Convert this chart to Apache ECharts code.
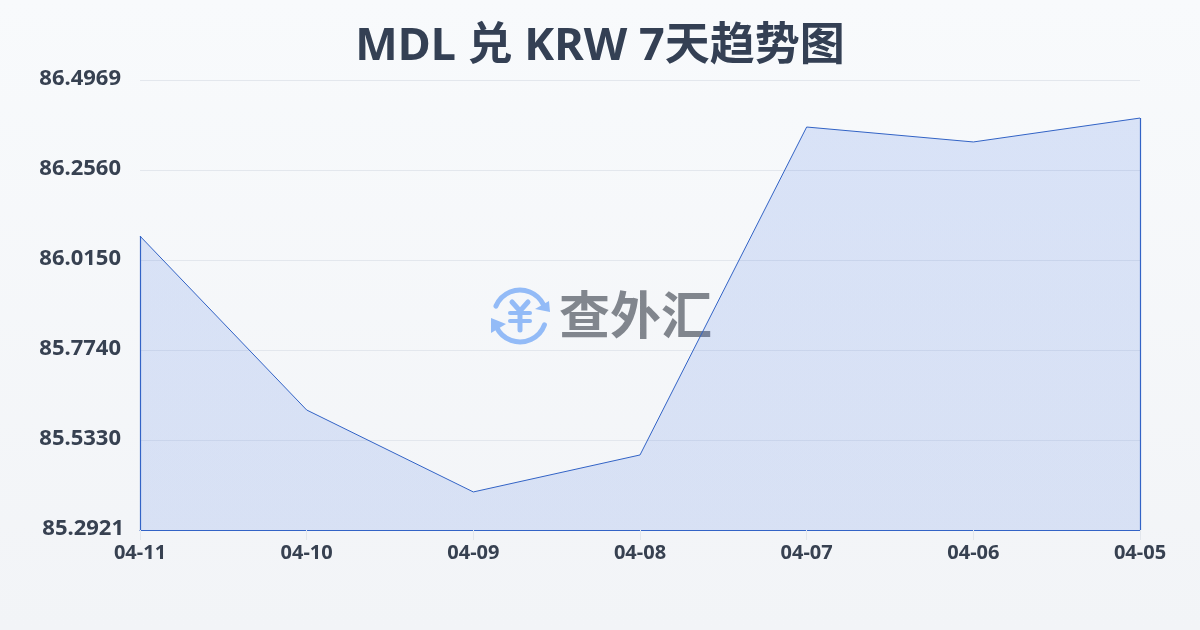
<!DOCTYPE html>
<html><head><meta charset="utf-8">
<style>html,body{margin:0;padding:0;width:1200px;height:630px;overflow:hidden}#c{width:1200px;height:630px}</style>
<script src="https://cdn.jsdelivr.net/npm/echarts@6/dist/echarts.min.js"></script>
</head><body><div id="c"></div>
<script>
const titleText = 'MDL 兑 KRW 7天趋势图';
const categories = ['04-11','04-10','04-09','04-08','04-07','04-06','04-05'];
const rates = [86.079,85.6134,85.394,85.493,86.371,86.331,86.395];
const yTicks = [85.2921,85.5330,85.7740,86.0150,86.2560,86.4969];
const yMin = 85.2921, yMax = 86.4969;
const font = '"Noto Sans","Noto Sans CJK SC",sans-serif';
const cjk = '"Noto Sans CJK SC","Noto Sans",sans-serif';
const blue = '#3263c6';
const iconBlue = '#93bbf7';
const chart = echarts.init(document.getElementById('c'), null, {renderer:'canvas'});
chart.setOption({
  animation:false,
  backgroundColor:{type:'linear',x:0,y:0,x2:0,y2:1,colorStops:[{offset:0,color:'#f8fafc'},{offset:1,color:'#f2f4f7'}]},
  title:{text:titleText,left:'center',top:20,textStyle:{fontFamily:font,fontSize:45,fontWeight:'bold',color:'#344054'}},
  grid:{left:140,right:60,top:80,bottom:100,containLabel:false},
  xAxis:{type:'category',data:categories,boundaryGap:false,
    axisLine:{show:true,lineStyle:{color:blue,width:1.2}},
    axisTick:{show:true,length:10,lineStyle:{color:'#e2e6ec'}},
    axisLabel:{fontFamily:font,fontSize:20,fontWeight:'bold',color:'#374151',margin:13,interval:0,hideOverlap:false,alignMinLabel:'center',alignMaxLabel:'center'},
    splitLine:{show:false}},
  yAxis:{type:'value',min:yMin,max:yMax,
    axisLine:{show:false},
    axisTick:{show:false,customValues:yTicks},
    axisLabel:{customValues:yTicks,fontFamily:font,fontSize:22,fontWeight:'bold',color:'#374151',margin:16,
      formatter:v=>(Math.abs(v-yMin)<1e-6?'{m|':'{n|')+v.toFixed(4)+'}',
      verticalAlignMinLabel:'middle',verticalAlignMaxLabel:'middle',
      rich:{
        n:{fontFamily:font,fontSize:22,fontWeight:'bold',color:'#374151',padding:[0,3,3,0]},
        m:{fontFamily:font,fontSize:22,fontWeight:'bold',color:'#374151',padding:[0,0,3,0]}
      }},
    splitLine:{show:true,lineStyle:{color:'#e3e7ed',width:1}}},
  series:[{type:'line',data:rates,symbol:'none',smooth:false,z:3,
    lineStyle:{color:blue,width:1},
    areaStyle:{opacity:1,color:{type:'linear',x:0,y:0,x2:0,y2:1,colorStops:[{offset:0,color:'rgba(60,110,225,0.16)'},{offset:1,color:'rgba(60,110,225,0.15)'}]},origin:'start'},
    markLine:{silent:true,symbol:'none',label:{show:false},lineStyle:{color:blue,width:1.2,type:'solid'},
      data:[
        [{coord:[categories[0],yMin]},{coord:[categories[0],rates[0]]}],
        [{coord:[categories[6],yMin]},{coord:[categories[6],rates[6]]}]
      ]}
  }],
  graphic:[
    {type:'group',z:10,silent:true,children:[
      {type:'arc',shape:{cx:520,cy:316,r:26,startAngle:-2.75,endAngle:-0.45},style:{fill:null,stroke:iconBlue,lineWidth:5,lineCap:'round'}},
      {type:'arc',shape:{cx:520,cy:316,r:26,startAngle:0.35,endAngle:2.7},style:{fill:null,stroke:iconBlue,lineWidth:5,lineCap:'round'}},
      {type:'polygon',shape:{points:[[549,301],[550,312],[535,309]]},style:{fill:iconBlue}},
      {type:'polygon',shape:{points:[[491,318],[506,324],[491,333]]},style:{fill:iconBlue}},
      {type:'polyline',shape:{points:[[512,302],[520,311],[528,302]]},style:{fill:null,stroke:iconBlue,lineWidth:5,lineCap:'round'}},
      {type:'line',shape:{x1:510,y1:313,x2:530,y2:313},style:{stroke:iconBlue,lineWidth:4,lineCap:'round'}},
      {type:'line',shape:{x1:510,y1:321,x2:530,y2:321},style:{stroke:iconBlue,lineWidth:4,lineCap:'round'}},
      {type:'line',shape:{x1:520,y1:311,x2:520,y2:330},style:{stroke:iconBlue,lineWidth:5,lineCap:'round'}},
      {type:'text',x:559,y:289,style:{text:'查外汇',fontFamily:cjk,fontSize:51,fontWeight:'bold',fill:'rgba(80,85,95,0.7)'}}
    ]}
  ]
});
</script></body></html>
